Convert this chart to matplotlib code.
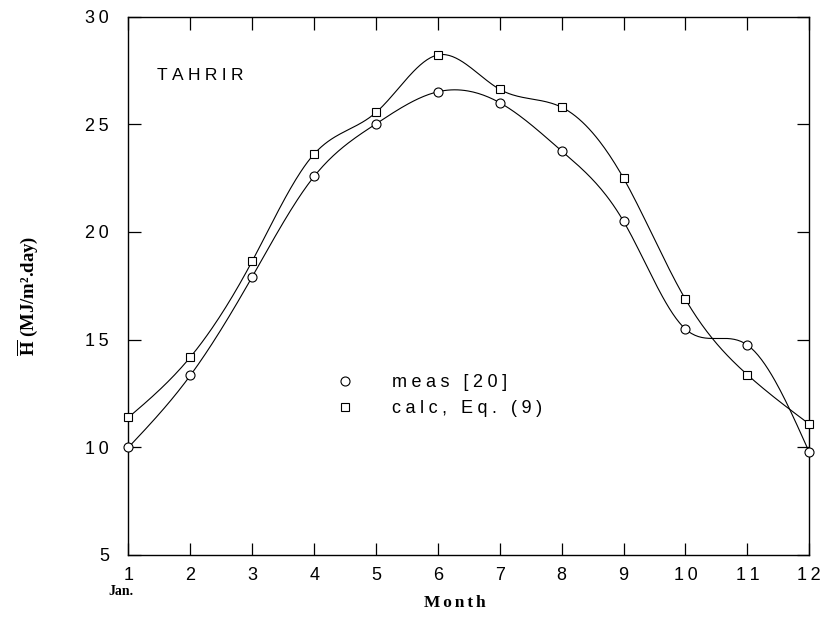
import numpy as np
import matplotlib
matplotlib.use('Agg')
from matplotlib import pyplot as plt
from matplotlib.lines import Line2D

months = [1, 2, 3, 4, 5, 6, 7, 8, 9, 10, 11, 12]
meas = [10.0, 13.34, 17.92, 22.58, 25.02, 26.51, 26.0, 23.76, 20.49, 15.49, 14.75, 9.77]
calc = [11.39, 14.19, 18.65, 23.62, 25.55, 28.22, 26.62, 25.79, 22.49, 16.87, 13.37, 11.08]
yticks = [5, 10, 15, 20, 25, 30]

plt.rcParams['font.family'] = ['Liberation Sans', 'DejaVu Sans']
plt.rcParams['mathtext.fontset'] = 'custom'
plt.rcParams['mathtext.rm'] = 'Liberation Serif:bold'
plt.rcParams['mathtext.bf'] = 'Liberation Serif:bold'


def spaced(s, gap='\u2005'):
    # the old plotting program tracked its letters wide
    return gap.join(s)


def spline(x, y, n=400):
    # natural cubic spline, only used to draw the smooth line through the points
    x = np.asarray(x, float)
    y = np.asarray(y, float)
    k = len(x)
    h = np.diff(x)
    A = np.zeros((k, k))
    b = np.zeros(k)
    A[0, 0] = 1
    A[-1, -1] = 1
    for i in range(1, k - 1):
        A[i, i - 1] = h[i - 1]
        A[i, i] = 2 * (h[i - 1] + h[i])
        A[i, i + 1] = h[i]
        b[i] = 3 * ((y[i + 1] - y[i]) / h[i] - (y[i] - y[i - 1]) / h[i - 1])
    c = np.linalg.solve(A, b)
    xs = np.linspace(x[0], x[-1], n)
    idx = np.clip(np.searchsorted(x, xs) - 1, 0, k - 2)
    dx = xs - x[idx]
    bb = (y[1:] - y[:-1]) / h - h * (2 * c[:-1] + c[1:]) / 3
    d = (c[1:] - c[:-1]) / (3 * h)
    ys = y[idx] + bb[idx] * dx + c[idx] * dx ** 2 + d[idx] * dx ** 3
    return xs, ys


fig = plt.figure(figsize=(8.22, 6.19), dpi=100)
ax = fig.add_axes([0.1563, 0.1034, 0.8282, 0.8698])

for vals, mk, ms in [(meas, 'o', 6.5), (calc, 's', 5.5)]:
    xs, ys = spline(months, vals)
    ax.plot(xs, ys, color='black', lw=0.8, zorder=2)
    ax.plot(months, vals, ls='none', marker=mk, ms=ms, mfc='white', mec='black',
            mew=0.8, zorder=3, clip_on=False)

ax.set_xlim(1, 12)
ax.set_ylim(5, 30)
ax.set_xticks(months)
ax.set_xticklabels([spaced(str(m), '\u2009') for m in months])
ax.set_yticks(yticks)
ax.set_yticklabels([spaced(str(v), '\u2009') for v in yticks])
ax.tick_params(direction='in', length=9, width=0.9, top=True, right=True,
               labelsize=13, colors='black')
ax.tick_params(axis='y', pad=14)
ax.tick_params(axis='x', pad=9)
for s in ax.spines.values():
    s.set_linewidth(1.0)

ax.text(0.042, 0.891, spaced('TAHRIR'), transform=ax.transAxes, fontsize=12.5,
        ha='left', va='center')

handles = [Line2D([], [], ls='none', marker='o', ms=6.5, mfc='white', mec='black', mew=0.8),
           Line2D([], [], ls='none', marker='s', ms=5.5, mfc='white', mec='black', mew=0.8)]
ax.legend(handles, [spaced('meas [20]'), spaced('calc, Eq. (9)')], loc='center left',
          bbox_to_anchor=(0.281, 0.296), frameon=False, fontsize=13,
          handlelength=1.0, handletextpad=2.1, labelspacing=0.5)

fig.text(0.147, 0.044, 'Jan.', fontsize=10, fontweight='bold',
         family='Liberation Serif', ha='center', va='center')
fig.text(0.553, 0.026, spaced('Month', '\u2006'), fontsize=12.5, fontweight='bold',
         family='Liberation Serif', ha='center', va='center')
fig.text(0.034, 0.522, r'$\overline{\mathrm{H}}$ (MJ/m².day)', fontsize=13.5,
         fontweight='bold', family='Liberation Serif', rotation=90,
         ha='center', va='center')

fig.savefig('out.png', dpi=100, facecolor='white')
